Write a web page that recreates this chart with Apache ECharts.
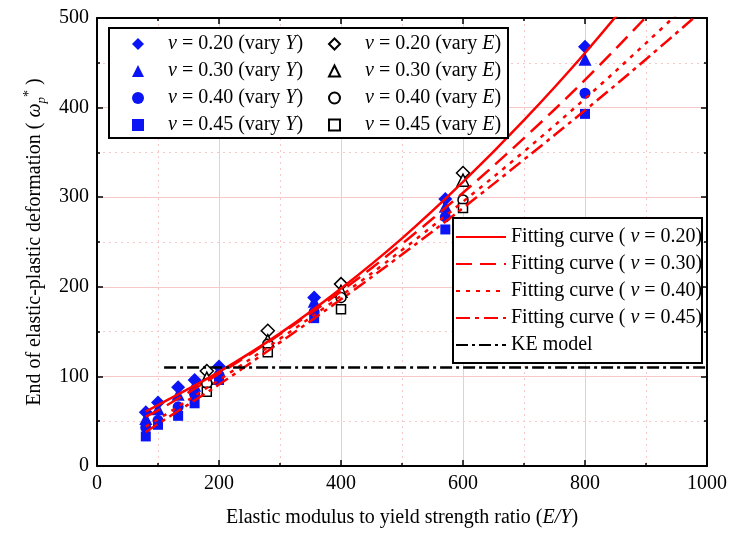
<!DOCTYPE html>
<html>
<head>
<meta charset="utf-8">
<script src="https://cdn.jsdelivr.net/npm/echarts@6/dist/echarts.min.js"></script>
<style>
  html, body { margin: 0; padding: 0; background: #fff; }
  #chart { width: 732px; height: 539px; }
</style>
</head>
<body>
<div id="chart"></div>
<script>
// measured points, vary Y (filled blue)
var varyYX = [80, 100, 133, 160, 200, 356, 571, 800];
var varyY020 = [60, 71, 88, 96, 111, 188, 298, 468];
var varyY030 = [53, 64, 80, 90, 107, 184, 290, 454];
var varyY040 = [43, 51, 66, 80, 101, 172, 278, 416];
var varyY045 = [33, 46, 56, 70, 96, 165, 264, 393];

// measured points, vary E (open black)
var varyEX = [180, 280, 400, 600];
var varyE020 = [106, 151, 203, 327];
var varyE030 = [98, 140, 195, 319];
var varyE040 = [92, 136, 188, 297];
var varyE045 = [83, 127, 175, 288];

// fitting curves
var fitX = [80, 100, 200, 300, 400, 500, 600, 700, 800, 900, 1000];
var fit020 = [61, 68, 105, 148, 198, 254, 317, 386, 461, 543, 631];
var fit030 = [55, 62, 103, 147, 195, 248, 305, 366, 431, 501, 574];
var fit040 = [44, 52, 96, 142, 190, 241, 295, 351, 410, 472, 536];
var fit045 = [38, 47, 91, 138, 186, 236, 288, 342, 397, 454, 513];

// KE model
var keX = [110, 1000];
var keY = [110, 110];

var nus = ["0.20", "0.30", "0.40", "0.45"];
var symbols = ["diamond", "triangle", "circle", "rect"];
var symSizes = [14, 13, 11, 10];

var FONT = "Liberation Serif";
var pink = "#f7c8c8";

function pairs(xs, ys) {
  return xs.map(function (x, i) { return [x, ys[i]]; });
}

var chart = echarts.init(document.getElementById("chart"));

var yNames = nus.map(function (n) { return "ν = " + n + " (vary Y)"; });
var eNames = nus.map(function (n) { return "ν = " + n + " (vary E)"; });
var fitNames = nus.map(function (n) { return "Fitting curve ( ν = " + n + ")"; });

var yData = [varyY020, varyY030, varyY040, varyY045];
var eData = [varyE020, varyE030, varyE040, varyE045];
var fitData = [fit020, fit030, fit040, fit045];
var dashes = ["solid", [16, 8], [4, 6], [14, 5, 4, 5]];

var series = [];
yNames.forEach(function (name, i) {
  series.push({
    name: name,
    type: "scatter",
    symbol: symbols[i],
    symbolSize: symSizes[i],
    itemStyle: { color: "#0a14f5", opacity: 1 },
    data: pairs(varyYX, yData[i]),
    z: 2
  });
});
eNames.forEach(function (name, i) {
  series.push({
    name: name,
    type: "scatter",
    symbol: symbols[i],
    symbolSize: symSizes[i] - 1,
    itemStyle: { color: "#fff", borderColor: "#000", borderWidth: 1.5, opacity: 1 },
    data: pairs(varyEX, eData[i]),
    z: 2
  });
});
fitNames.forEach(function (name, i) {
  series.push({
    name: name,
    type: "line",
    smooth: 0.4,
    symbol: "none",
    showSymbol: false,
    lineStyle: { color: "#ff0000", width: 2.5, type: dashes[i] },
    itemStyle: { color: "#ff0000" },
    data: pairs(fitX, fitData[i]),
    z: 3
  });
});
series.push({
  name: "KE model",
  type: "line",
  symbol: "none",
  showSymbol: false,
  lineStyle: { color: "#000", width: 2.5, type: [12, 4, 3, 4] },
  itemStyle: { color: "#000" },
  data: pairs(keX, keY),
  z: 3
});

function legendFmt(name) {
  return "{s|}" + name.replace("ν", "{i|ν}").replace("Y)", "{i|Y})").replace("E)", "{i|E})");
}

function legendText(gap) {
  return {
    fontFamily: FONT,
    fontSize: 20,
    color: "#000",
    lineHeight: 20,
    rich: {
      s: { width: gap, fontSize: 20, lineHeight: 20 },
      i: { fontFamily: FONT, fontSize: 20, fontStyle: "italic", color: "#000", lineHeight: 20 }
    }
  };
}

var frameAxis = {
  axisLine: { show: true, onZero: false, lineStyle: { color: "#000", width: 2 } },
  axisTick: { show: true, inside: true, length: 6, lineStyle: { color: "#000", width: 1.5 } },
  minorTick: { show: true, splitNumber: 2, length: 3, lineStyle: { color: "#000", width: 1.5 } },
  axisLabel: { show: false },
  splitLine: { show: false }
};

var option = {
  backgroundColor: "#fff",
  animation: false,
  grid: { left: 97, right: 25, top: 18, bottom: 73, containLabel: false },
  xAxis: [
    {
      type: "value",
      min: 0,
      max: 1000,
      interval: 200,
      position: "bottom",
      name: "Elastic modulus to yield strength ratio ({i|E/Y})",
      nameLocation: "middle",
      nameGap: 42,
      nameTextStyle: {
        fontFamily: FONT, fontSize: 20, color: "#000",
        rich: { i: { fontFamily: FONT, fontSize: 20, fontStyle: "italic", color: "#000" } }
      },
      axisLine: { show: true, onZero: false, lineStyle: { color: "#000", width: 2 } },
      axisTick: { show: true, inside: true, length: 6, lineStyle: { color: "#000", width: 1.5 } },
      minorTick: { show: true, splitNumber: 2, length: 3, lineStyle: { color: "#000", width: 1.5 } },
      axisLabel: {
        fontFamily: FONT, fontSize: 20, color: "#000", margin: 8,
        formatter: function (v) { return String(v); }
      },
      splitLine: { show: true, lineStyle: { color: pink, width: 1 } },
      minorSplitLine: { show: true, lineStyle: { color: pink, width: 1, type: [2, 4] } }
    },
    Object.assign({ type: "value", min: 0, max: 1000, interval: 200, position: "top", gridIndex: 0 }, frameAxis)
  ],
  yAxis: [
    {
      type: "value",
      min: 0,
      max: 500,
      interval: 100,
      position: "left",
      name: "{t|End of elastic-plastic deformation ( }{i|ω}{sub|p}{sup|*}{t| )}",
      nameLocation: "middle",
      nameRotate: 90,
      nameGap: 48,
      nameTextStyle: {
        fontFamily: FONT, fontSize: 20, color: "#000",
        rich: {
          t: { fontFamily: FONT, fontSize: 20, color: "#000", lineHeight: 26 },
          i: { fontFamily: FONT, fontSize: 20, fontStyle: "italic", color: "#000", lineHeight: 26 },
          sub: { fontFamily: FONT, fontSize: 13, fontStyle: "italic", color: "#000", verticalAlign: "bottom", lineHeight: 26 },
          sup: { fontFamily: FONT, fontSize: 14, color: "#000", verticalAlign: "top", lineHeight: 26 }
        }
      },
      axisLine: { show: true, onZero: false, lineStyle: { color: "#000", width: 2 } },
      axisTick: { show: true, inside: true, length: 6, lineStyle: { color: "#000", width: 1.5 } },
      minorTick: { show: true, splitNumber: 2, length: 3, lineStyle: { color: "#000", width: 1.5 } },
      axisLabel: { fontFamily: FONT, fontSize: 20, color: "#000", margin: 8 },
      splitLine: { show: true, lineStyle: { color: pink, width: 1 } },
      minorSplitLine: { show: true, lineStyle: { color: pink, width: 1, type: [2, 4] } }
    },
    Object.assign({ type: "value", min: 0, max: 500, interval: 100, position: "right", gridIndex: 0 }, frameAxis)
  ],
  graphic: [
    {
      type: "rect",
      shape: { x: 109, y: 28, width: 399, height: 110 },
      style: { fill: "#fff", stroke: "#000", lineWidth: 2 },
      z: 10
    },
    {
      type: "rect",
      shape: { x: 453, y: 218, width: 249, height: 145 },
      style: { fill: "#fff", stroke: "#000", lineWidth: 2 },
      z: 10
    }
  ],
  legend: [
    {
      data: yNames,
      orient: "vertical",
      left: 132,
      top: 34,
      padding: 0,
      itemWidth: 12,
      itemHeight: 12,
      itemGap: 7,
      formatter: legendFmt,
      textStyle: legendText(19),
      z: 20
    },
    {
      data: eNames,
      orient: "vertical",
      left: 328,
      top: 34,
      padding: 0,
      itemWidth: 11,
      itemHeight: 11,
      itemGap: 7,
      formatter: legendFmt,
      textStyle: legendText(20),
      z: 20
    },
    {
      data: fitNames.concat(["KE model"]),
      orient: "vertical",
      left: 455,
      top: 227,
      padding: 0,
      itemWidth: 50,
      itemHeight: 14,
      itemGap: 7,
      formatter: legendFmt,
      textStyle: legendText(0),
      itemStyle: { opacity: 0 },
      z: 20
    }
  ],
  series: series
};

chart.setOption(option);
</script>
</body>
</html>
